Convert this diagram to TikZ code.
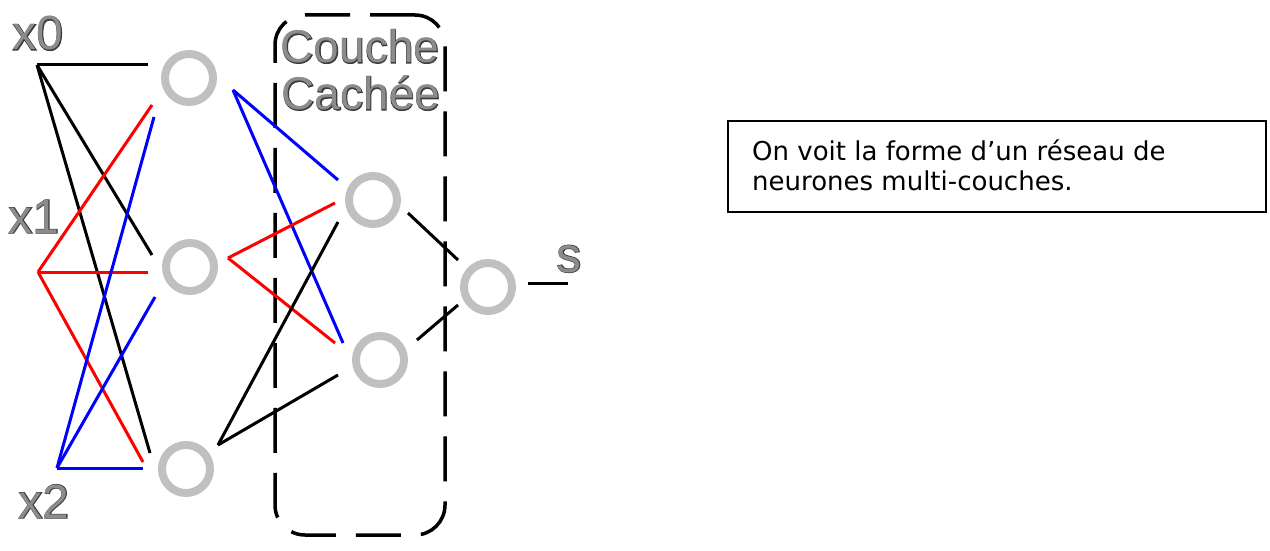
\documentclass[tikz,border=0pt]{standalone}
\usepackage{fontspec}
\setmainfont{Liberation Sans}
\newfontfamily\boxfont{DejaVu Sans}
\newfontfamily\labfontb[FakeBold=2.5]{Liberation Sans}
\usetikzlibrary{calc}
\definecolor{ringgray}{RGB}{192,192,192}
\definecolor{labdark}{RGB}{60,60,60}
\definecolor{labfill}{RGB}{140,140,140}
\definecolor{lred}{RGB}{255,0,0}
\definecolor{lblue}{RGB}{0,0,255}
\begin{document}
\begin{tikzpicture}[x=1pt,y=-1pt,
  neuron/.style={circle,draw=ringgray,line width=8pt,minimum size=48pt,inner sep=0pt},
  wire/.style={line width=3pt},
  rwire/.style={wire,draw=lred},
  bwire/.style={wire,draw=lblue},
  kwire/.style={wire,draw=black},
  labout/.style={text=labdark,inner sep=0pt,anchor=base},
  labin/.style={text=labfill,inner sep=0pt,anchor=base},
  hidbox/.style={draw=black,line width=3.5pt,dash pattern=on 45pt off 20pt,rounded corners=30pt}
]
\useasboundingbox (0,0) rectangle (1270,551);

% neurons
\node[neuron] (h1a) at (189,78) {};
\node[neuron] (h1b) at (190,267) {};
\node[neuron] (h1c) at (186,469) {};
\node[neuron] (h2a) at (373,200) {};
\node[neuron] (h2b) at (380,360) {};
\node[neuron] (out) at (488,287) {};

% input points
\coordinate (x0p) at (37,65);
\coordinate (x1p) at (38,272);
\coordinate (x2p) at (57,468);

% labels (outlined look: dark emboldened copy under a lighter copy)
\node[labout,font=\labfontb\fontsize{48}{48}\selectfont] (x0o) at (38,50) {x0};
\node[labin,font=\fontsize{48}{48}\selectfont] (x0) at (38,50) {x0};
\node[labout,font=\labfontb\fontsize{48}{48}\selectfont] (x1o) at (34,233) {x1};
\node[labin,font=\fontsize{48}{48}\selectfont] (x1) at (34,233) {x1};
\node[labout,font=\labfontb\fontsize{48}{48}\selectfont] (x2o) at (44,518) {x2};
\node[labin,font=\fontsize{48}{48}\selectfont] (x2) at (44,518) {x2};
\node[labout,font=\labfontb\fontsize{50}{50}\selectfont] (so) at (569,272) {s};
\node[labin,font=\fontsize{50}{50}\selectfont] (s) at (569,272) {s};
\node[labout,font=\labfontb\fontsize{46}{46}\selectfont] (c1o) at (360,63) {Couche};
\node[labin,font=\fontsize{46}{46}\selectfont] (c1) at (360,63) {Couche};
\node[labout,font=\labfontb\fontsize{46}{46}\selectfont] (c2o) at (361,110) {Cachée};
\node[labin,font=\fontsize{46}{46}\selectfont] (c2) at (361,110) {Cachée};

% hidden layer box
\node[hidbox,minimum width=170pt,minimum height=520pt,inner sep=0pt] (box) at (360,275) {};

% endpoints near neurons
\coordinate (h1a-i0) at ($(h1a)+(-41,-13)$);
\coordinate (h1a-i1) at ($(h1a)+(-37,27)$);
\coordinate (h1a-i2) at ($(h1a)+(-35,39)$);
\coordinate (h1b-i0) at ($(h1b)+(-38,-12)$);
\coordinate (h1b-i1) at ($(h1b)+(-42,5)$);
\coordinate (h1b-i2) at ($(h1b)+(-35,30)$);
\coordinate (h1c-i0) at ($(h1c)+(-36,-16)$);
\coordinate (h1c-i1) at ($(h1c)+(-43,-7)$);
\coordinate (h1c-i2) at ($(h1c)+(-43,-1)$);
\coordinate (h1a-o) at ($(h1a)+(44,12)$);
\coordinate (h1b-o) at ($(h1b)+(38,-9)$);
\coordinate (h1c-o) at ($(h1c)+(32,-24)$);
\coordinate (h2a-ia) at ($(h2a)+(-35,-20)$);
\coordinate (h2a-ib) at ($(h2a)+(-38,3)$);
\coordinate (h2a-ic) at ($(h2a)+(-35,22)$);
\coordinate (h2b-ia) at ($(h2b)+(-37,-17)$);
\coordinate (h2b-ib) at ($(h2b)+(-45,-17)$);
\coordinate (h2b-ic) at ($(h2b)+(-42,15)$);
\coordinate (h2a-o) at ($(h2a)+(35,13)$);
\coordinate (h2b-o) at ($(h2b)+(37,-20)$);
\coordinate (out-ia) at ($(out)+(-30,-27)$);
\coordinate (out-ib) at ($(out)+(-30,18)$);
\coordinate (out-o) at ($(out)+(40,-4)$);
\coordinate (s-end) at ($(out)+(80,-4)$);

% input -> layer 1
\draw[kwire] (x0p) -- (h1a-i0);
\draw[kwire] (x0p) -- (h1b-i0);
\draw[kwire] (x0p) -- (h1c-i0);
\draw[rwire] (x1p) -- (h1a-i1);
\draw[rwire] (x1p) -- (h1b-i1);
\draw[rwire] (x1p) -- (h1c-i1);
\draw[bwire] (x2p) -- (h1a-i2);
\draw[bwire] (x2p) -- (h1b-i2);
\draw[bwire] (x2p) -- (h1c-i2);

% layer 1 -> layer 2
\draw[bwire] (h1a-o) -- (h2a-ia);
\draw[bwire] (h1a-o) -- (h2b-ia);
\draw[rwire] (h1b-o) -- (h2a-ib);
\draw[rwire] (h1b-o) -- (h2b-ib);
\draw[kwire] (h1c-o) -- (h2a-ic);
\draw[kwire] (h1c-o) -- (h2b-ic);

% layer 2 -> output
\draw[kwire] (h2a-o) -- (out-ia);
\draw[kwire] (h2b-o) -- (out-ib);
\draw[kwire] (out-o) -- (s-end);

% comment box
\node[draw=black,line width=2pt,minimum width=538pt,minimum height=91pt,inner sep=0pt] (note) at (997,166.5) {};
\node[anchor=base west,inner sep=0pt,align=left,font=\boxfont\fontsize{26}{30}\selectfont] (notetext) at (752,190)
  {On voit la forme d’un réseau de\\neurones multi-couches.};
\end{tikzpicture}
\end{document}
